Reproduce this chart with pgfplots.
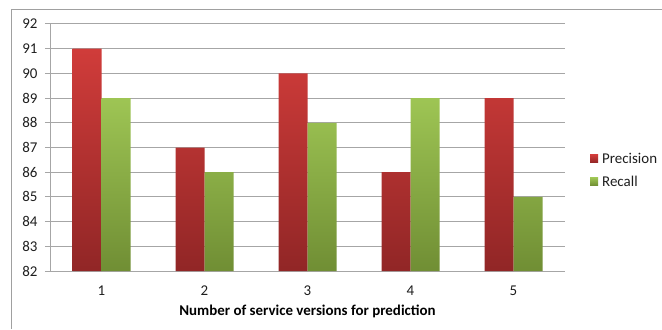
\documentclass[border=0pt]{standalone}
\usepackage{pgfplots}
\pgfplotsset{compat=1.18}
\usepackage{fontspec}
\setmainfont{Carlito}
\definecolor{gridgray}{RGB}{166,166,166}
\definecolor{frame}{RGB}{160,160,160}
\definecolor{redtop}{RGB}{208,60,58}
\definecolor{redbot}{RGB}{145,38,38}
\definecolor{greentop}{RGB}{158,197,84}
\definecolor{greenbot}{RGB}{112,142,52}
\definecolor{txt}{RGB}{30,30,30}
\begin{document}
\begin{tikzpicture}[x=1bp,y=1bp]
\useasboundingbox (0,0) rectangle (662,329);
\draw[color=frame, line width=1bp] (11,0) -- (11,319) -- (662,319);
\begin{axis}[
  at={(50bp,58bp)}, anchor=south west,
  scale only axis, width=515bp, height=247bp,
  xmin=0.5, xmax=5.5, ymin=82, ymax=92,
  y coord trafo/.code={\pgfmathparse{#1-82}},
  y coord inv trafo/.code={\pgfmathparse{#1+82}},
  ytick={82,83,84,85,86,87,88,89,90,91,92},
  yticklabels={82,83,84,85,86,87,88,89,90,91,92},
  xtick={1,2,3,4,5},
  xticklabels={1,2,3,4,5},
  axis x line=bottom, axis y line=left,
  axis line style={-, color=gridgray, line width=1bp},
  ymajorgrids, grid style={color=gridgray, line width=1bp},
  major y tick style={color=gridgray, line width=1bp},
  tick align=outside, major tick length=5bp,
  major x tick style={draw=none},
  tick label style={font=\fontsize{15}{17}\selectfont, text=txt},
  yticklabel style={xshift=-4bp},
  xticklabel style={yshift=-6bp},
  xlabel={\textbf{Number of service versions for prediction}},
  xlabel style={font=\fontsize{15}{17}\selectfont, text=black, yshift=-3bp},
  ybar=0pt, bar width=29bp,
  legend image code/.code={\fill[#1] (0bp,-4bp) rectangle (8bp,4bp);},
  legend style={at={(1.0485,0.408)}, anchor=west, draw=none, fill=none,
    font=\fontsize{15}{17}\selectfont, text=txt,
    row sep=7bp, inner sep=0pt,
    nodes={inner xsep=4bp}},
  legend cell align=left,
]
\addplot[draw=none, top color=redtop, bottom color=redbot] coordinates {(1,91) (2,87) (3,90) (4,86) (5,89)};
\addplot[draw=none, top color=greentop, bottom color=greenbot] coordinates {(1,89) (2,86) (3,88) (4,89) (5,85)};
\legend{Precision, Recall}
\end{axis}
\end{tikzpicture}
\end{document}
